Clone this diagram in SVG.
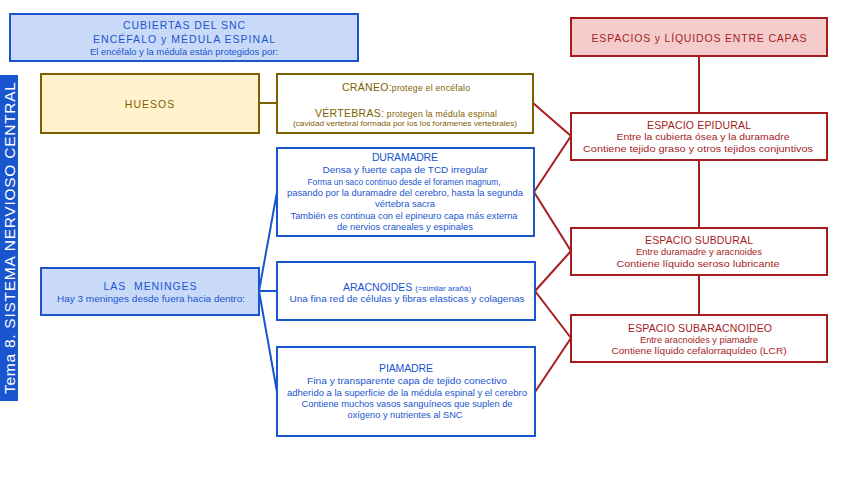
<svg xmlns="http://www.w3.org/2000/svg" width="848" height="477" viewBox="0 0 848 477">
<style>
text{font-family:"Liberation Sans",Arial,sans-serif;text-anchor:middle}
.bl{fill:#1a55d0}
.gd{fill:#7f6000}
.rd{fill:#a61c1c}
.t{font-size:10.5px}
.s{font-size:8.6px}
.bbox{fill:#fff;stroke:#1a55d0;stroke-width:2}
.bfill{fill:#c9daf8;stroke:#1a55d0;stroke-width:2}
.gbox{fill:#fff;stroke:#7f6000;stroke-width:2}
.gfill{fill:#fff2cc;stroke:#7f6000;stroke-width:2}
.rbox{fill:#fff;stroke:#a61c1c;stroke-width:2}
.rfill{fill:#f4cccc;stroke:#a61c1c;stroke-width:2}
.cb{stroke:#1a55d0;stroke-width:2;fill:none}
.cg{stroke:#7f6000;stroke-width:2;fill:none}
.cr{stroke:#a61c1c;stroke-width:2;fill:none}
</style>
<rect width="848" height="477" fill="#fff"/>
<g id="connectors">
<line class="cg" x1="259" y1="103" x2="277" y2="103"/>
<line class="cb" x1="259" y1="291" x2="277" y2="192"/>
<line class="cb" x1="259" y1="291" x2="277" y2="291"/>
<line class="cb" x1="259" y1="291" x2="277" y2="392"/>
<line class="cr" x1="699" y1="56" x2="699" y2="113"/>
<line class="cr" x1="699" y1="160" x2="699" y2="228"/>
<line class="cr" x1="699" y1="275" x2="699" y2="315"/>
<line class="cr" x1="533" y1="103" x2="571" y2="136"/>
<line class="cr" x1="534" y1="192" x2="571" y2="136"/>
<line class="cr" x1="534" y1="192" x2="571" y2="251"/>
<line class="cr" x1="535" y1="291" x2="571" y2="251"/>
<line class="cr" x1="535" y1="291" x2="571" y2="338"/>
<line class="cr" x1="535" y1="392" x2="571" y2="338"/>
</g>
<g id="title">
<rect class="bfill" x="10" y="14" width="348" height="47"/>
<text class="bl t" x="184" y="29" textLength="122">CUBIERTAS DEL SNC</text>
<text class="bl t" x="184" y="43" textLength="182">ENCÉFALO y MÉDULA ESPINAL</text>
<text class="bl s" x="184" y="55" textLength="188" lengthAdjust="spacingAndGlyphs">El encéfalo y la médula están protegidos por:</text>
</g>
<g id="sidebar">
<rect x="0" y="75" width="18" height="326" fill="#1a55d0"/>
<text x="0" y="0" transform="translate(15 238) rotate(-90)" fill="#fff" font-size="15.5px" textLength="312">Tema 8. SISTEMA NERVIOSO CENTRAL</text>
</g>
<g id="huesos">
<rect class="gfill" x="41" y="74" width="218" height="59"/>
<text class="gd" x="150" y="108" font-size="10.5px" letter-spacing="1">HUESOS</text>
</g>
<g id="craneo">
<rect class="gbox" x="277" y="74" width="256" height="59"/>
<text class="gd" x="406" y="91" textLength="128" lengthAdjust="spacing"><tspan font-size="10.5px">CRÁNEO:</tspan><tspan font-size="8.6px">protege el encéfalo</tspan></text>
<text class="gd" x="406" y="117" textLength="182" lengthAdjust="spacing"><tspan font-size="10.5px">VÉRTEBRAS:</tspan><tspan font-size="8.6px"> protegen la médula espinal</tspan></text>
<text class="gd" x="405" y="126" font-size="7px" textLength="224" lengthAdjust="spacingAndGlyphs">(cavidad vertebral formada por los los forámenes vertebrales)</text>
</g>
<g id="meninges">
<rect class="bfill" x="41" y="268" width="218" height="47"/>
<text class="bl t" x="150" y="290" textLength="93" word-spacing="4">LAS MENINGES</text>
<text class="bl s" x="151" y="302" textLength="188" lengthAdjust="spacingAndGlyphs">Hay 3 meninges desde fuera hacia dentro:</text>
</g>
<g id="duramadre">
<rect class="bbox" x="277" y="148" width="257" height="88"/>
<text class="bl t" x="405" y="161" textLength="66">DURAMADRE</text>
<text class="bl s" x="405" y="173" textLength="165" lengthAdjust="spacingAndGlyphs">Densa y fuerte capa de TCD irregular</text>
<text class="bl s" x="404" y="185" textLength="193" lengthAdjust="spacingAndGlyphs">Forma un saco continuo desde el foramen magnum,</text>
<text class="bl s" x="405" y="196" textLength="236" lengthAdjust="spacingAndGlyphs">pasando por la duramadre del cerebro, hasta la segunda</text>
<text class="bl s" x="405" y="207" textLength="60" lengthAdjust="spacingAndGlyphs">vértebra sacra</text>
<text class="bl s" x="404" y="219" textLength="227" lengthAdjust="spacingAndGlyphs">También es continua con el epineuro capa más externa</text>
<text class="bl s" x="405" y="230" textLength="136" lengthAdjust="spacingAndGlyphs">de nervios craneales y espinales</text>
</g>
<g id="aracnoides">
<rect class="bbox" x="277" y="262" width="258" height="58"/>
<text class="bl" x="407" y="291"><tspan font-size="10.5px">ARACNOIDES </tspan><tspan font-size="8px">(=similar araña)</tspan></text>
<text class="bl s" x="407" y="302" textLength="235" lengthAdjust="spacingAndGlyphs">Una fina red de células y fibras elasticas y colagenas</text>
</g>
<g id="piamadre">
<rect class="bbox" x="277" y="347" width="258" height="89"/>
<text class="bl t" x="406" y="372" textLength="54">PIAMADRE</text>
<text class="bl s" x="407" y="384" textLength="200" lengthAdjust="spacingAndGlyphs">Fina y transparente capa de tejido conectivo</text>
<text class="bl s" x="407" y="396" textLength="240" lengthAdjust="spacingAndGlyphs">adherido a la superficie de la médula espinal y el cerebro</text>
<text class="bl s" x="407" y="407" textLength="211" lengthAdjust="spacingAndGlyphs">Contiene muchos vasos sanguíneos que suplen de</text>
<text class="bl s" x="405" y="418" textLength="115" lengthAdjust="spacingAndGlyphs">oxígeno y nutrientes al SNC</text>
</g>
<g id="espacios">
<rect class="rfill" x="571" y="18" width="256" height="38"/>
<text class="rd" x="699" y="42" font-size="10.5px" textLength="215">ESPACIOS y LÍQUIDOS ENTRE CAPAS</text>
</g>
<g id="epidural">
<rect class="rbox" x="571" y="113" width="256" height="47"/>
<text class="rd t" x="699" y="129" textLength="104">ESPACIO EPIDURAL</text>
<text class="rd s" x="703" y="140" textLength="173" lengthAdjust="spacingAndGlyphs">Entre la cubierta ósea y la duramadre</text>
<text class="rd s" x="698" y="152" textLength="230" lengthAdjust="spacingAndGlyphs">Contiene tejido graso y otros tejidos conjuntivos</text>
</g>
<g id="subdural">
<rect class="rbox" x="571" y="228" width="256" height="47"/>
<text class="rd t" x="699" y="244" textLength="108">ESPACIO SUBDURAL</text>
<text class="rd s" x="699" y="255" textLength="126" lengthAdjust="spacingAndGlyphs">Entre duramadre y aracnoides</text>
<text class="rd s" x="698" y="267" textLength="163" lengthAdjust="spacingAndGlyphs">Contiene líquido seroso lubricante</text>
</g>
<g id="subaracnoideo">
<rect class="rbox" x="571" y="315" width="256" height="47"/>
<text class="rd t" x="700" y="332" textLength="144">ESPACIO SUBARACNOIDEO</text>
<text class="rd s" x="699" y="343" textLength="118" lengthAdjust="spacingAndGlyphs">Entre aracnoides y piamadre</text>
<text class="rd s" x="699" y="354" textLength="175" lengthAdjust="spacingAndGlyphs">Contiene líquido cefalorraquídeo (LCR)</text>
</g>
</svg>
